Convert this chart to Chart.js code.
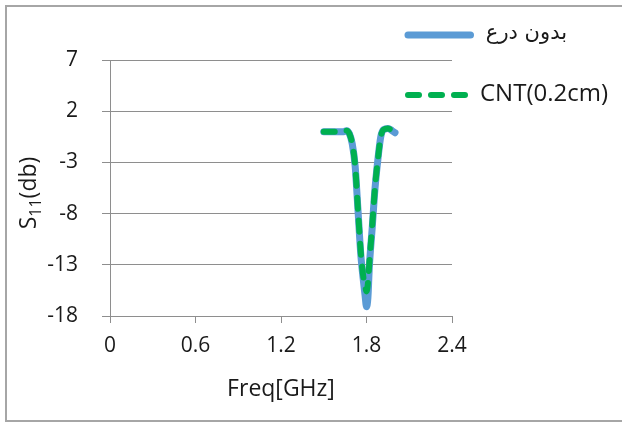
<!DOCTYPE html>
<html>
<head>
<meta charset="utf-8">
<script src="https://cdn.jsdelivr.net/npm/chart.js@4.4.0/dist/chart.umd.min.js"></script>
<style>
  html, body { margin: 0; padding: 0; background: #fff; }
  #wrap { width: 622px; height: 423px; }
</style>
</head>
<body>
<div id="wrap"><canvas id="s11Chart" width="622" height="423"></canvas></div>
<script>
// Frequenzpunkte (GHz) und S11-Werte (dB)
const freq = [1.50, 1.55, 1.60, 1.64, 1.66, 1.68, 1.70, 1.72, 1.74, 1.76, 1.78, 1.79, 1.80, 1.81, 1.82, 1.84, 1.86, 1.88, 1.90, 1.92, 1.95, 1.98, 2.00];
const s11Ohne = [0.0, 0.0, 0.0, 0.0, 0.1, -0.2, -1.2, -3.3, -7.6, -12.0, -14.8, -16.0, -17.1, -16.2, -13.2, -9.4, -5.5, -2.7, -0.5, 0.2, 0.3, 0.1, -0.1];
const s11Cnt = [0.0, 0.0, 0.0, 0.0, 0.1, -0.2, -1.2, -3.3, -7.6, -11.8, -14.4, -15.0, -15.6, -14.8, -12.8, -9.2, -5.4, -2.7, -0.5, 0.2, 0.3, 0.1, -0.1];

const seriesNames = ['بدون درع', 'CNT(0.2cm)'];
const xTicks = [0, 0.6, 1.2, 1.8, 2.4];
const yTicks = [-18, -13, -8, -3, 2, 7];

const FONT = "'Open Sans', sans-serif";
const ARABIC_FONT = "'DejaVu Sans', sans-serif";
const gridColor = '#8e8e8e';

function toPoints(ys) {
    return freq.map((f, i) => ({ x: f, y: ys[i] }));
}

// Rahmen, Achsentitel und Legende selbst zeichnen
const extrasPlugin = {
    id: 'extras',
    beforeDraw(chart) {
        const c = chart.ctx;
        c.save();
        c.fillStyle = '#fff';
        c.fillRect(0, 0, chart.width, chart.height);
        c.strokeStyle = '#a6a6a6';
        c.lineWidth = 2;
        c.beginPath();
        c.moveTo(640, 6);
        c.lineTo(6, 6);
        c.lineTo(6, 421);
        c.lineTo(640, 421);
        c.stroke();
        c.restore();
    },
    afterDraw(chart) {
        const c = chart.ctx;
        const area = chart.chartArea;
        c.save();
        c.fillStyle = '#1a1a1a';

        // x-Achsentitel
        c.font = '23px ' + FONT;
        c.textAlign = 'center';
        c.textBaseline = 'alphabetic';
        c.fillText('Freq[GHz]', (area.left + area.right) / 2, 396);

        // y-Achsentitel mit Index
        c.save();
        c.translate(36, 193);
        c.rotate(-Math.PI / 2);
        const big = '23px ' + FONT, small = '16px ' + FONT;
        c.font = big; const wS = c.measureText('S').width;
        const wP = c.measureText('(db)').width;
        c.font = small; const w11 = c.measureText('11').width;
        let x = -(wS + w11 + wP) / 2;
        c.textAlign = 'left';
        c.font = big; c.fillText('S', x, 0); x += wS;
        c.font = small; c.fillText('11', x, 5); x += w11;
        c.font = big; c.fillText('(db)', x, 0);
        c.restore();

        // Legende
        const rows = [35, 95];
        chart.data.datasets.forEach((ds, i) => {
            const y = rows[i];
            c.save();
            c.strokeStyle = ds.borderColor;
            c.lineWidth = ds.borderWidth;
            c.lineCap = 'round';
            c.setLineDash(ds.borderDash || []);
            c.beginPath();
            c.moveTo(408, y);
            c.lineTo(i === 0 ? 470.5 : 470, y);
            c.stroke();
            c.restore();
            c.save();
            c.textBaseline = 'middle';
            if (i === 0) {
                c.font = '21px ' + ARABIC_FONT;
                c.direction = 'rtl';
                c.textAlign = 'right';
                c.fillText(ds.label, 567, y - 1);
            } else {
                c.font = '24px ' + FONT;
                c.textAlign = 'left';
                c.fillText(ds.label, 480, y - 1);
            }
            c.restore();
        });
        c.restore();
    }
};

const ctx = document.getElementById('s11Chart').getContext('2d');

const config = {
    type: 'scatter',
    data: {
        datasets: [
            {
                label: seriesNames[0],
                data: toPoints(s11Ohne),
                showLine: true,
                order: 2,
                borderColor: '#5b9bd5',
                borderWidth: 7,
                borderCapStyle: 'round',
                borderJoinStyle: 'round',
                pointRadius: 0,
                cubicInterpolationMode: 'monotone'
            },
            {
                label: seriesNames[1],
                data: toPoints(s11Cnt),
                showLine: true,
                order: 1,
                borderColor: '#00b050',
                borderWidth: 6,
                borderDash: [11, 12],
                borderCapStyle: 'round',
                borderJoinStyle: 'round',
                pointRadius: 0,
                cubicInterpolationMode: 'monotone'
            }
        ]
    },
    options: {
        responsive: false,
        animation: false,
        layout: { padding: { top: 60, right: 170, bottom: 0, left: 0 } },
        plugins: {
            legend: { display: false },
            tooltip: { enabled: false }
        },
        scales: {
            x: {
                type: 'linear',
                min: 0,
                max: 2.4,
                afterBuildTicks: s => { s.ticks = xTicks.map(v => ({ value: v })); },
                afterFit: s => { s.height = 107; },
                grid: { drawOnChartArea: false, tickLength: 7, color: gridColor },
                border: { color: gridColor, width: 1 },
                ticks: {
                    padding: 10,
                    color: '#1a1a1a',
                    font: { family: FONT, size: 21 },
                    callback: v => String(Number(v.toFixed(1)))
                }
            },
            y: {
                min: -18,
                max: 7,
                afterBuildTicks: s => { s.ticks = yTicks.map(v => ({ value: v })); },
                afterFit: s => { s.width = 110; },
                grid: { tickLength: 8, color: gridColor },
                border: { color: gridColor, width: 1 },
                ticks: {
                    padding: 24,
                    color: '#1a1a1a',
                    font: { family: FONT, size: 21 }
                }
            }
        }
    },
    plugins: [extrasPlugin]
};

const s11Chart = new Chart(ctx, config);
</script>
</body>
</html>
